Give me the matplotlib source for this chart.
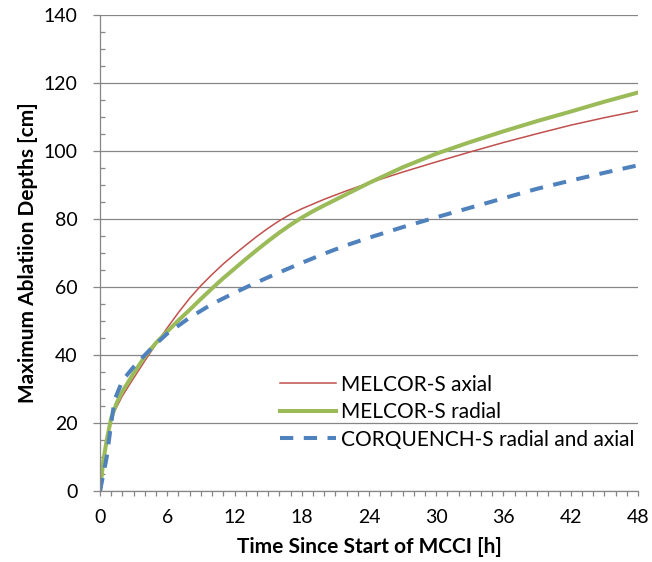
import numpy as np
import matplotlib
matplotlib.use("Agg")
import matplotlib.pyplot as plt
from matplotlib.ticker import MultipleLocator

plt.rcParams['font.family'] = ['Lato', 'DejaVu Sans']

# ablation depth [cm] vs time [h]
t_axial = [0, 0.3, 0.6, 1, 1.5, 2, 3, 4, 5, 6, 7, 8, 9, 10, 11, 12, 13, 14,
           15, 16, 17, 18, 20, 22, 24, 27, 30, 33, 36, 39, 42, 45, 48]
melcor_axial = [0, 9, 15, 21.5, 24.8, 28, 33.2, 38.3, 43.2, 48, 52.5, 56.7,
                60.4, 63.7, 66.8, 69.6, 72.3, 74.9, 77.3, 79.5, 81.4, 83,
                85.8, 88.3, 90.6, 93.8, 96.8, 99.7, 102.5, 105.1, 107.6, 109.8,
                111.8]

t_radial = [0, 0.3, 0.6, 1, 1.5, 2, 3, 4, 5, 6, 7, 8, 9, 10, 11, 12, 13, 14,
            15, 16, 17, 18, 19, 20, 22, 24, 27, 30, 33, 36, 39, 42, 45, 48]
melcor_radial = [0, 9, 15, 21.5, 26, 29.3, 34.6, 39.6, 43.6, 46.9, 50.2, 53.3,
                 56.5, 59.6, 62.6, 65.4, 68.2, 70.9, 73.5, 76, 78.3, 80.4,
                 82.3, 84, 87.3, 90.6, 95.2, 99.2, 102.6, 105.8, 108.8, 111.6,
                 114.5, 117.2]

t_corq = [0, 0.3, 0.6, 1, 1.3, 2, 3, 4, 5, 6, 8, 10, 12, 14, 16, 18, 20, 22,
          24, 27, 30, 33, 36, 39, 42, 45, 48]
corquench = [0, 5, 10, 20, 26.8, 32.5, 36.5, 40, 43.3, 46.3, 51, 55, 58.3,
             61.4, 64.3, 67.1, 69.8, 72.3, 74.5, 77.6, 80.5, 83.3, 86.1, 88.9,
             91.3, 93.6, 95.8]

fig = plt.figure(figsize=(6.52, 5.62), dpi=100)
ax = fig.add_axes([0.1534, 0.1263, 0.8251, 0.847])

grey = '#868686'
ax.plot(t_axial, melcor_axial, color='#C0504D', lw=1.1, label='MELCOR-S axial')
ax.plot(t_radial, melcor_radial, color='#9BBB59', lw=2.9, label='MELCOR-S radial')
ax.plot(t_corq, corquench, color='#4F81BD', lw=2.9, dashes=(3.3, 2.6),
        label='CORQUENCH-S radial and axial')

ax.set_xlim(0, 48)
ax.set_ylim(0, 140)
ax.xaxis.set_major_locator(MultipleLocator(6))
ax.xaxis.set_minor_locator(MultipleLocator(1))
ax.yaxis.set_major_locator(MultipleLocator(20))
ax.yaxis.set_minor_locator(MultipleLocator(5))

ax.grid(axis='y', which='major', color=grey, lw=0.9)
ax.set_axisbelow(True)
for s in ['top', 'right']:
    ax.spines[s].set_visible(False)
for s in ['left', 'bottom']:
    ax.spines[s].set_color(grey)
    ax.spines[s].set_linewidth(0.9)

ax.tick_params(axis='y', which='major', direction='out', length=5, color=grey,
               width=0.9, pad=11, labelsize=14)
ax.tick_params(axis='y', which='minor', direction='in', length=3.5, color=grey,
               width=0.9)
ax.tick_params(axis='x', which='both', direction='out', length=3.8, color=grey,
               width=0.9, pad=9, labelsize=14)

ax.set_xlabel('Time Since Start of MCCI [h]', fontsize=15, fontweight='bold',
              labelpad=8)
ax.set_ylabel('Maximum Ablatiion Depths [cm]', fontsize=15, fontweight='bold',
              labelpad=4)

ax.legend(loc='upper left', bbox_to_anchor=(0.32, 0.262), frameon=False,
          fontsize=15, handlelength=2.65, handletextpad=0.25, labelspacing=0.36,
          borderaxespad=0)

fig.savefig('out.png', dpi=100)
